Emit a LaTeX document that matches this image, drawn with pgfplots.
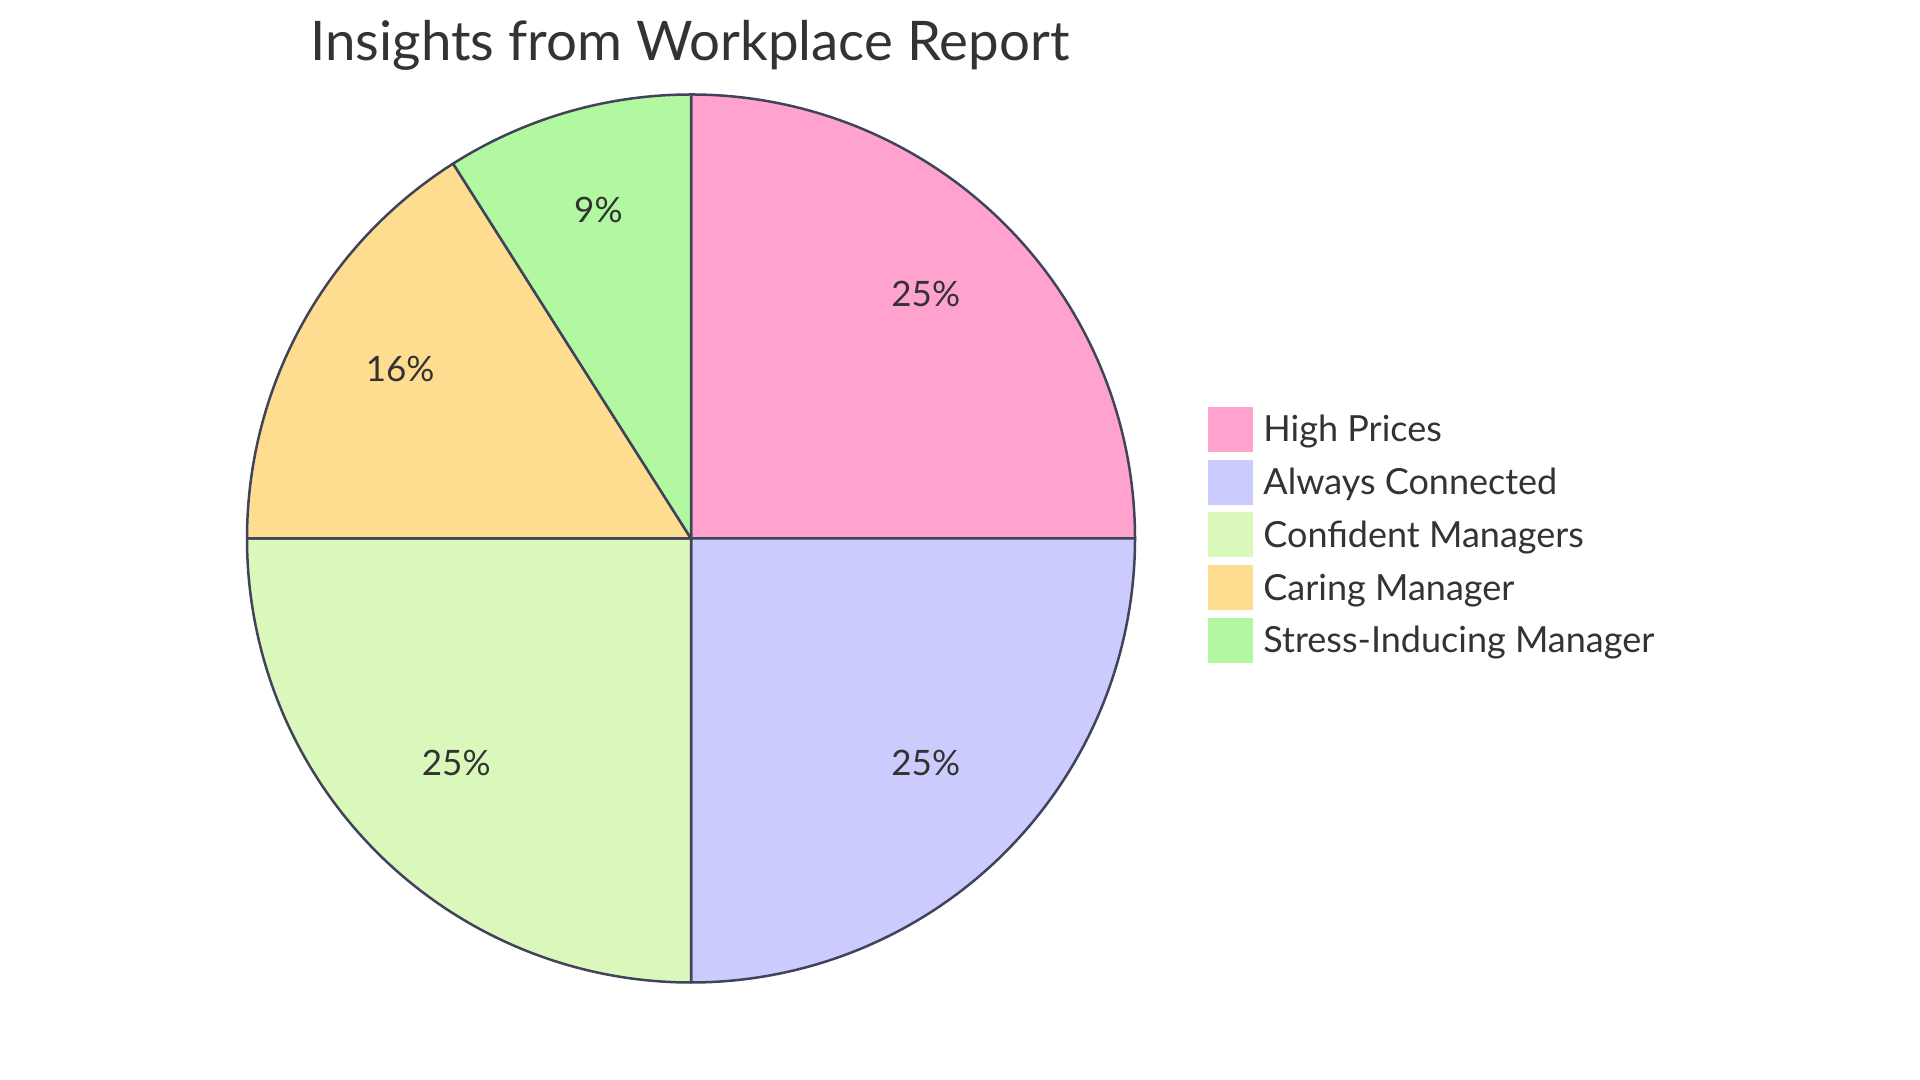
\documentclass[border=0pt]{standalone}
\usepackage{pgfplots}
\pgfplotsset{compat=1.18}
\usepackage{pgfplotstable}
\usepackage{fontspec}
\setmainfont{Lato}

\definecolor{cPink}{HTML}{FFA3CE}
\definecolor{cBlue}{HTML}{CBCBFE}
\definecolor{cLime}{HTML}{DAF8BB}
\definecolor{cGold}{HTML}{FEDD91}
\definecolor{cGreen}{HTML}{B2F8A0}
\definecolor{cEdge}{HTML}{40435A}
\definecolor{cText}{HTML}{333333}

\pgfplotstableread{
name value
HighPrices 25
AlwaysConnected 25
ConfidentManagers 25
CaringManager 16
StressInducingManager 9
}\pietable

% pull values and turn them into angles (clockwise from 12 o'clock)
\pgfplotstablegetelem{0}{value}\of\pietable \let\vA\pgfplotsretval
\pgfplotstablegetelem{1}{value}\of\pietable \let\vB\pgfplotsretval
\pgfplotstablegetelem{2}{value}\of\pietable \let\vC\pgfplotsretval
\pgfplotstablegetelem{3}{value}\of\pietable \let\vD\pgfplotsretval
\pgfplotstablegetelem{4}{value}\of\pietable \let\vE\pgfplotsretval
\pgfmathsetmacro\aA{90}
\pgfmathsetmacro\aB{\aA-3.6*\vA}
\pgfmathsetmacro\aC{\aB-3.6*\vB}
\pgfmathsetmacro\aD{\aC-3.6*\vC}
\pgfmathsetmacro\aE{\aD-3.6*\vD}
\pgfmathsetmacro\aF{\aE-3.6*\vE}

\def\R{222pt}
\def\L{166pt}
\newcommand\slice[4]{% start, end, colour, label
  \filldraw[fill=#3, draw=cEdge, line width=1.25pt, line join=round]
    (axis cs:691,541.5) -- ([shift={(#1:\R)}]axis cs:691,541.5)
    arc[start angle=#1, end angle=#2, radius=\R] -- cycle;
  \node[text=cText, font=\fontsize{17.5}{22}\selectfont]
    at ([shift={({(#1+#2)/2}:\L)}, yshift=5pt]axis cs:691,541.5) {#4\%};
}
\newcommand\legrow[3]{% y, colour, text
  \fill[#2] (axis cs:1208,#1-22.5) rectangle (axis cs:1253,#1+22.5);
  \node[anchor=base west, text=cText, font=\fontsize{18}{22}\selectfont, inner sep=0pt]
    at (axis cs:1263,#1-12.5) {#3};
}

\begin{document}
\begin{tikzpicture}
\begin{axis}[hide axis, scale only axis, width=960pt, height=540pt,
  xmin=0, xmax=1920, ymin=0, ymax=1080, clip=false]
\path (axis cs:0,0) rectangle (axis cs:1920,1080);
\slice{\aA}{\aB}{cPink}{\vA}
\slice{\aB}{\aC}{cBlue}{\vB}
\slice{\aC}{\aD}{cLime}{\vC}
\slice{\aD}{\aE}{cGold}{\vD}
\slice{\aE}{\aF}{cGreen}{\vE}
\node[anchor=base, text=cText, font=\fontsize{27.3}{32}\selectfont]
  at (axis cs:690,1019) {Insights from Workplace Report};
\legrow{650.5}{cPink}{High Prices}
\legrow{597.8}{cBlue}{Always Connected}
\legrow{545.1}{cLime}{Confident Managers}
\legrow{492.4}{cGold}{Caring Manager}
\legrow{439.7}{cGreen}{Stress-Inducing Manager}
\end{axis}
\end{tikzpicture}
\end{document}
